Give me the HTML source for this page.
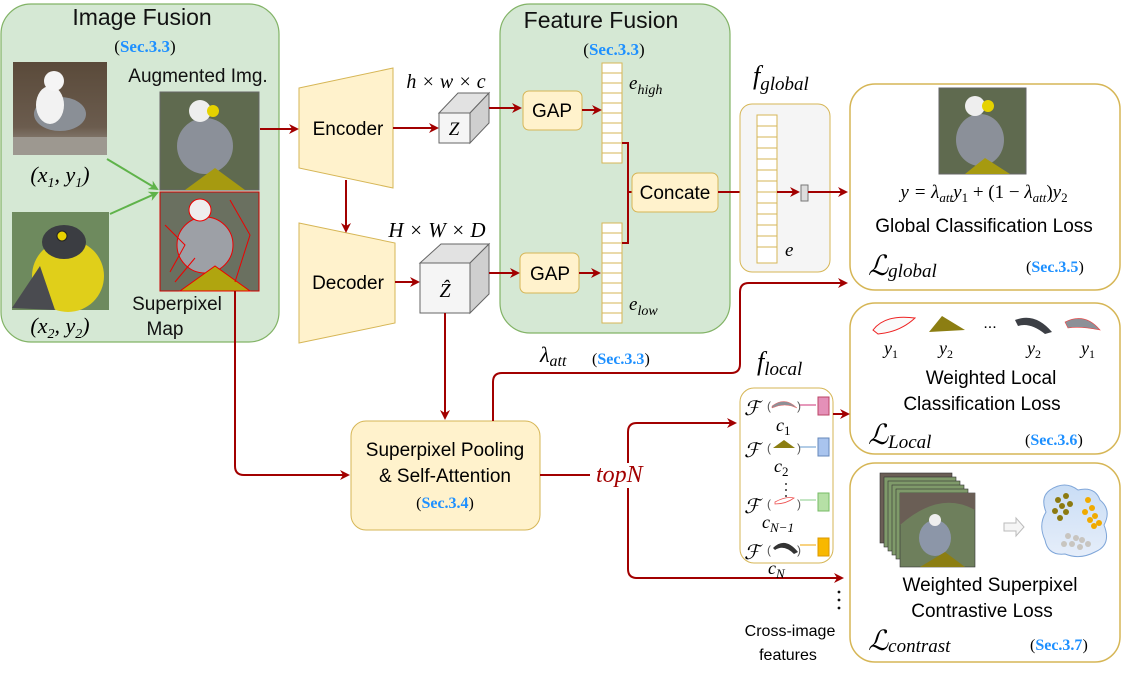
<!DOCTYPE html>
<html><head><meta charset="utf-8"><style>
html,body{margin:0;padding:0;background:#fff;}
svg{display:block;font-family:"Liberation Sans",sans-serif;}
.s{font-family:"Liberation Serif",serif;}
.m{font-family:"Liberation Serif",serif;font-style:italic;}
.sec{font-family:"Liberation Serif",serif;font-weight:bold;fill:#1e90ff;}
</style></head><body>
<svg width="1136" height="679" viewBox="0 0 1136 679" xmlns="http://www.w3.org/2000/svg">
<defs>
<marker id="ar" markerWidth="10" markerHeight="10" refX="8" refY="5" orient="auto" markerUnits="userSpaceOnUse"><path d="M0,0 L10,5 L0,10 L3,5 Z" fill="#a20000"/></marker>
<marker id="ag" markerWidth="10" markerHeight="10" refX="8" refY="5" orient="auto" markerUnits="userSpaceOnUse"><path d="M0,0 L10,5 L0,10 L3,5 Z" fill="#5fb34a"/></marker>
<linearGradient id="bg1" x1="0" y1="0" x2="0" y2="1"><stop offset="0" stop-color="#5a4a3a"/><stop offset="0.7" stop-color="#6b5c4e"/><stop offset="1" stop-color="#a09a90"/></linearGradient>
<linearGradient id="cl" x1="0" y1="0" x2="0" y2="1"><stop offset="0" stop-color="#c9ddf5"/><stop offset="1" stop-color="#e6eefa"/></linearGradient>
</defs>

<!-- Image Fusion -->
<rect x="1" y="4" width="278" height="338" rx="30" fill="#d5e8d4" stroke="#82b366" stroke-width="1.2"/>
<text x="142" y="25" font-size="23" text-anchor="middle" fill="#111">Image Fusion</text>
<text x="145" y="52" font-size="17" text-anchor="middle" class="s">(<tspan class="sec">Sec.3.3</tspan>)</text>
<!-- bird1 -->
<rect x="13" y="62" width="94" height="93" fill="url(#bg1)"/>
<ellipse cx="60" cy="114" rx="26" ry="17" fill="#8a8f96"/>
<ellipse cx="50" cy="105" rx="14" ry="19" fill="#f2f2f2"/>
<circle cx="54" cy="81" r="10" fill="#f5f5f5"/>
<rect x="13" y="137" width="94" height="18" fill="#9d9890"/>
<text x="60" y="182" font-size="22" text-anchor="middle" class="m">(x<tspan font-size="14" dy="5">1</tspan><tspan dy="-5">, y</tspan><tspan font-size="14" dy="5">1</tspan><tspan dy="-5">)</tspan></text>
<!-- bird2 -->
<rect x="12" y="212" width="97" height="98" fill="#6e8a5e"/>
<ellipse cx="68" cy="276" rx="36" ry="36" fill="#e0cf1a"/>
<ellipse cx="64" cy="242" rx="22" ry="17" fill="#3b3d42"/>
<circle cx="62" cy="236" r="5" fill="#e8d100" stroke="#222"/>
<path d="M12,308 L40,266 L55,310 Z" fill="#4a4b50"/>
<text x="60" y="333" font-size="22" text-anchor="middle" class="m">(x<tspan font-size="14" dy="5">2</tspan><tspan dy="-5">, y</tspan><tspan font-size="14" dy="5">2</tspan><tspan dy="-5">)</tspan></text>
<!-- augmented -->
<text x="198" y="82" font-size="19" text-anchor="middle" fill="#111">Augmented Img.</text>
<rect x="160" y="92" width="99" height="98" fill="#5f6a4f" stroke="#666"/>
<ellipse cx="205" cy="146" rx="28" ry="28" fill="#8b9099"/>
<circle cx="200" cy="111" r="11" fill="#eee"/>
<circle cx="213" cy="111" r="6" fill="#e5d200"/>
<path d="M185,190 L215,168 L245,190 Z" fill="#a69a10"/>
<rect x="160" y="192" width="99" height="99" fill="#6a7060" stroke="#c00"/>
<ellipse cx="205" cy="245" rx="28" ry="28" fill="#9da0a6" stroke="#e00"/>
<circle cx="200" cy="210" r="11" fill="#eee" stroke="#e00"/>
<path d="M180,291 L215,266 L250,291 Z" fill="#b0a50f" stroke="#e00"/>
<path d="M165,225 L185,245 L170,272 M230,200 L250,235 L235,282 M175,282 L195,258" stroke="#e00" fill="none"/>
<text x="177" y="310" font-size="19" text-anchor="middle" fill="#111">Superpixel</text>
<text x="165" y="335" font-size="19" text-anchor="middle" fill="#111">Map</text>
<line x1="107" y1="159" x2="157" y2="189" stroke="#5fb34a" stroke-width="2" marker-end="url(#ag)"/>
<line x1="110" y1="214" x2="157" y2="193" stroke="#5fb34a" stroke-width="2" marker-end="url(#ag)"/>

<!-- Encoder / Decoder -->
<line x1="260" y1="129" x2="297" y2="129" stroke="#a20000" stroke-width="2" marker-end="url(#ar)"/>
<polygon points="299,88 393,68 393,188 299,168" fill="#fff2cc" stroke="#d6b656"/>
<text x="348" y="135" font-size="19" text-anchor="middle">Encoder</text>
<polygon points="299,223 395,243 395,323 299,343" fill="#fff2cc" stroke="#d6b656"/>
<text x="348" y="289" font-size="19" text-anchor="middle">Decoder</text>
<line x1="346" y1="180" x2="346" y2="231" stroke="#a20000" stroke-width="2" marker-end="url(#ar)"/>
<line x1="393" y1="128" x2="437" y2="128" stroke="#a20000" stroke-width="2" marker-end="url(#ar)"/>
<line x1="395" y1="282" x2="418" y2="282" stroke="#a20000" stroke-width="2" marker-end="url(#ar)"/>

<!-- Z cube -->
<text x="446" y="88" font-size="20" text-anchor="middle" class="m">h × w × c</text>
<polygon points="439,113 458,93 489,93 470,113" fill="#e2e2e2" stroke="#666"/>
<polygon points="470,113 489,93 489,123 470,143" fill="#cfcfcf" stroke="#666"/>
<rect x="439" y="113" width="31" height="30" fill="#f5f5f5" stroke="#666"/>
<text x="454" y="135" font-size="19" text-anchor="middle" class="m">Z</text>
<!-- Zhat cube -->
<text x="437" y="237" font-size="21" text-anchor="middle" class="m">H × W × D</text>
<polygon points="420,263 441,244 489,244 470,263" fill="#e2e2e2" stroke="#666"/>
<polygon points="470,263 489,244 489,294 470,313" fill="#cfcfcf" stroke="#666"/>
<rect x="420" y="263" width="50" height="50" fill="#f5f5f5" stroke="#666"/>
<text x="445" y="297" font-size="20" text-anchor="middle" class="m">Ẑ</text>

<!-- Feature Fusion -->
<rect x="500" y="4" width="230" height="329" rx="30" fill="#d5e8d4" stroke="#82b366" stroke-width="1.2"/>
<text x="601" y="28" font-size="23" text-anchor="middle" fill="#111">Feature Fusion</text>
<text x="614" y="55" font-size="17" text-anchor="middle" class="s">(<tspan class="sec">Sec.3.3</tspan>)</text>
<line x1="489" y1="108" x2="520" y2="108" stroke="#a20000" stroke-width="2" marker-end="url(#ar)"/>
<rect x="523" y="91" width="59" height="39" rx="6" fill="#fff2cc" stroke="#d6b656"/>
<text x="552" y="117" font-size="19" text-anchor="middle">GAP</text>
<line x1="489" y1="273" x2="518" y2="273" stroke="#a20000" stroke-width="2" marker-end="url(#ar)"/>
<rect x="520" y="253" width="59" height="40" rx="6" fill="#fff2cc" stroke="#d6b656"/>
<text x="550" y="280" font-size="19" text-anchor="middle">GAP</text>
<line x1="582" y1="110" x2="600" y2="110" stroke="#a20000" stroke-width="2" marker-end="url(#ar)"/>
<line x1="579" y1="273" x2="599" y2="273" stroke="#a20000" stroke-width="2" marker-end="url(#ar)"/>
<g fill="#fff" stroke="#d6b656" stroke-width="1">
<rect x="602" y="63" width="20" height="100"/><rect x="602" y="223" width="20" height="100"/>
</g>
<g stroke="#d6b656" stroke-width="1">
<path d="M602,73h20M602,83h20M602,93h20M602,103h20M602,113h20M602,123h20M602,133h20M602,143h20M602,153h20"/>
<path d="M602,233h20M602,243h20M602,253h20M602,263h20M602,273h20M602,283h20M602,293h20M602,303h20M602,313h20"/>
</g>
<text x="629" y="89" font-size="19" class="m">e<tspan font-size="14" dy="5">high</tspan></text>
<text x="629" y="310" font-size="19" class="m">e<tspan font-size="14" dy="5">low</tspan></text>
<path d="M622,143 H628 V243 H622 M628,192 H632" stroke="#a20000" stroke-width="2" fill="none"/>
<rect x="632" y="173" width="86" height="39" rx="6" fill="#fff2cc" stroke="#d6b656"/>
<text x="675" y="199" font-size="19" text-anchor="middle">Concate</text>
<line x1="718" y1="192" x2="754" y2="192" stroke="#a20000" stroke-width="2" marker-end="url(#ar)"/>

<!-- f_global -->
<text x="753" y="84" font-size="26" class="m">f<tspan font-size="19" dy="6">global</tspan></text>
<rect x="740" y="104" width="90" height="168" rx="12" fill="#f5f5f5" stroke="#d6b656"/>
<rect x="757" y="115" width="20" height="148" fill="#fff" stroke="#d6b656"/>
<path d="M757,126h20M757,137h20M757,148h20M757,159h20M757,170h20M757,181h20M757,192h20M757,203h20M757,214h20M757,225h20M757,236h20M757,247h20" stroke="#d6b656"/>
<line x1="777" y1="192" x2="798" y2="192" stroke="#a20000" stroke-width="2" marker-end="url(#ar)"/>
<rect x="801" y="185" width="7" height="16" fill="#ddd" stroke="#777"/>
<line x1="808" y1="192" x2="846" y2="192" stroke="#a20000" stroke-width="2" marker-end="url(#ar)"/>
<text x="785" y="256" font-size="19" class="m">e</text>

<!-- Global box -->
<rect x="850" y="84" width="270" height="206" rx="25" fill="#fff" stroke="#d6b656" stroke-width="1.5"/>
<rect x="939" y="88" width="87" height="86" fill="#5f6a4f" stroke="#666"/>
<ellipse cx="980" cy="140" rx="24" ry="26" fill="#8b9099"/>
<circle cx="975" cy="106" r="10" fill="#eee"/>
<circle cx="988" cy="106" r="6" fill="#e5d200"/>
<path d="M965,174 L985,158 L1010,174 Z" fill="#a69a10"/>
<text x="984" y="198" font-size="19" text-anchor="middle" class="m">y = λ<tspan font-size="13" dy="4">att</tspan><tspan dy="-4">y</tspan><tspan font-size="13" dy="4" font-style="normal">1</tspan><tspan dy="-4" font-style="normal"> + (1 − </tspan>λ<tspan font-size="13" dy="4">att</tspan><tspan dy="-4" font-style="normal">)</tspan>y<tspan font-size="13" dy="4" font-style="normal">2</tspan></text>
<text x="984" y="232" font-size="19" text-anchor="middle">Global Classification Loss</text>
<text x="868" y="275" font-size="28" class="m">ℒ<tspan font-size="19" dy="2">global</tspan></text>
<text x="1026" y="272" font-size="16" class="s">(<tspan class="sec">Sec.3.5</tspan>)</text>

<!-- Local box -->
<rect x="850" y="303" width="270" height="151" rx="25" fill="#fff" stroke="#d6b656" stroke-width="1.5"/>
<path d="M873,330 Q885,314 915,318 Q900,332 878,334 Z" fill="#fafafa" stroke="#e22"/>
<path d="M929,332 L942,316 L965,330 Z" fill="#8c7e12"/>
<text x="990" y="328" font-size="16" text-anchor="middle">...</text>
<path d="M1015,320 Q1035,312 1052,332 L1045,334 Q1030,322 1018,326 Z" fill="#3c3f45"/>
<path d="M1065,322 Q1085,312 1100,330 Q1080,326 1068,328 Z" fill="#8c9097" stroke="#e44" stroke-width="0.6"/>
<g font-size="18" class="m"><text x="884" y="354">y<tspan font-size="12" dy="4" font-style="normal">1</tspan></text><text x="939" y="354">y<tspan font-size="12" dy="4" font-style="normal">2</tspan></text><text x="1027" y="354">y<tspan font-size="12" dy="4" font-style="normal">2</tspan></text><text x="1081" y="354">y<tspan font-size="12" dy="4" font-style="normal">1</tspan></text></g>
<text x="991" y="384" font-size="19" text-anchor="middle">Weighted Local</text>
<text x="982" y="410" font-size="19" text-anchor="middle">Classification Loss</text>
<text x="868" y="444" font-size="28" class="m">ℒ<tspan font-size="19" dy="4">Local</tspan></text>
<text x="1025" y="445" font-size="16" class="s">(<tspan class="sec">Sec.3.6</tspan>)</text>

<!-- Contrast box -->
<rect x="850" y="463" width="270" height="199" rx="25" fill="#fff" stroke="#d6b656" stroke-width="1.5"/>
<g stroke="#333" stroke-width="0.6">
<rect x="880" y="473" width="72" height="70" fill="#6a5e55"/>
<rect x="884" y="477" width="72" height="70" fill="#7f9a6a"/>
<rect x="888" y="481" width="72" height="70" fill="#7f9a6a"/>
<rect x="892" y="485" width="72" height="70" fill="#7f9a6a"/>
<rect x="896" y="489" width="72" height="70" fill="#7f9a6a"/>
<rect x="900" y="493" width="75" height="74" fill="#6e7f5c"/>
</g>
<path d="M900,493 H975 V510 Q940,490 900,525 Z" fill="#6a5e55"/>
<ellipse cx="935" cy="538" rx="16" ry="18" fill="#8c96a8"/>
<circle cx="935" cy="520" r="6" fill="#eee"/>
<path d="M920,567 L945,552 L965,567 Z" fill="#8c7e12"/>
<path d="M1004,523 h12 v-5 l8,9 l-8,9 v-5 h-12 Z" fill="#f5f5f5" stroke="#bbb"/>
<path d="M1050,490 Q1065,480 1078,490 Q1095,486 1100,500 Q1112,510 1104,525 Q1112,545 1095,552 Q1080,560 1065,554 Q1048,556 1045,540 Q1038,525 1046,512 Q1040,497 1050,490 Z" fill="url(#cl)" stroke="#7fa6d9"/>
<g fill="#8c7a10"><circle cx="1058" cy="500" r="3"/><circle cx="1066" cy="496" r="3"/><circle cx="1062" cy="506" r="3"/><circle cx="1070" cy="504" r="3"/><circle cx="1055" cy="511" r="3"/><circle cx="1066" cy="512" r="3"/><circle cx="1060" cy="518" r="3"/></g>
<g fill="#f0aa00"><circle cx="1088" cy="500" r="3"/><circle cx="1092" cy="508" r="3"/><circle cx="1085" cy="512" r="3"/><circle cx="1095" cy="516" r="3"/><circle cx="1090" cy="520" r="3"/><circle cx="1099" cy="523" r="3"/><circle cx="1094" cy="526" r="3"/></g>
<g fill="#c8c5c0"><circle cx="1068" cy="536" r="3"/><circle cx="1076" cy="538" r="3"/><circle cx="1082" cy="540" r="3"/><circle cx="1072" cy="544" r="3"/><circle cx="1080" cy="547" r="3"/><circle cx="1088" cy="544" r="3"/><circle cx="1064" cy="544" r="3"/></g>
<text x="990" y="591" font-size="19" text-anchor="middle">Weighted Superpixel</text>
<text x="982" y="617" font-size="19" text-anchor="middle">Contrastive Loss</text>
<text x="868" y="650" font-size="28" class="m">ℒ<tspan font-size="19" dy="2">contrast</tspan></text>
<text x="1030" y="650" font-size="16" class="s">(<tspan class="sec">Sec.3.7</tspan>)</text>

<!-- Pooling -->
<line x1="445" y1="313" x2="445" y2="418" stroke="#a20000" stroke-width="2" marker-end="url(#ar)"/>
<path d="M235,291 V466 Q235,475 244,475 H348" stroke="#a20000" stroke-width="2" fill="none" marker-end="url(#ar)"/>
<rect x="351" y="421" width="189" height="109" rx="15" fill="#fff2cc" stroke="#d6b656"/>
<text x="445" y="456" font-size="19" text-anchor="middle">Superpixel Pooling</text>
<text x="445" y="482" font-size="19" text-anchor="middle">&amp; Self-Attention</text>
<text x="445" y="508" font-size="16" text-anchor="middle" class="s">(<tspan class="sec">Sec.3.4</tspan>)</text>
<path d="M493,421 V382 Q493,373 502,373 H731 Q740,373 740,364 V292 Q740,283 749,283 H846" stroke="#a20000" stroke-width="2" fill="none" marker-end="url(#ar)"/>
<text x="540" y="362" font-size="22" class="m">λ<tspan font-size="16" dy="4">att</tspan></text>
<text x="592" y="364" font-size="16" class="s">(<tspan class="sec">Sec.3.3</tspan>)</text>
<line x1="540" y1="475" x2="590" y2="475" stroke="#a20000" stroke-width="2"/>
<text x="596" y="482" font-size="24" class="m" fill="#a20000">topN</text>
<path d="M628,463 V432 Q628,423 637,423 H735" stroke="#a20000" stroke-width="2" fill="none" marker-end="url(#ar)"/>
<path d="M628,488 V569 Q628,578 637,578 H842" stroke="#a20000" stroke-width="2" fill="none" marker-end="url(#ar)"/>

<!-- f_local -->
<text x="757" y="370" font-size="26" class="m">f<tspan font-size="19" dy="5">local</tspan></text>
<rect x="740" y="388" width="93" height="175" rx="14" fill="#fff" stroke="#d6b656"/>
<line x1="833" y1="414" x2="848" y2="414" stroke="#a20000" stroke-width="2" marker-end="url(#ar)"/>
<g font-size="20" class="m">
<text x="744" y="415">ℱ</text><text x="744" y="457">ℱ</text><text x="744" y="513">ℱ</text><text x="744" y="559">ℱ</text>
</g>
<g font-size="12" fill="#555"><text x="767" y="410">(</text><text x="797" y="410">)</text><text x="767" y="452">(</text><text x="797" y="452">)</text><text x="767" y="508">(</text><text x="797" y="508">)</text><text x="767" y="554">(</text><text x="797" y="554">)</text></g>
<path d="M772,406 Q785,396 797,408 Q785,402 772,408 Z" fill="#8c9097" stroke="#e66" stroke-width="0.5"/>
<path d="M773,448 L784,440 L795,448 Z" fill="#8c7e12"/>
<path d="M775,502 Q786,496 794,498 Q786,504 775,504 Z" fill="#fff" stroke="#e55" stroke-width="0.8"/>
<path d="M773,548 Q785,536 798,552 L794,554 Q784,544 775,550 Z" fill="#333"/>
<g stroke-width="1"><line x1="800" y1="405" x2="816" y2="405" stroke="#c37"/><line x1="800" y1="447" x2="816" y2="447" stroke="#69c"/><line x1="800" y1="500" x2="816" y2="500" stroke="#8c8"/><line x1="800" y1="545" x2="816" y2="545" stroke="#f0a500"/></g>
<rect x="818" y="397" width="11" height="18" fill="#e490b8" stroke="#b46"/>
<rect x="818" y="438" width="11" height="18" fill="#a9c4ee" stroke="#68b"/>
<rect x="818" y="493" width="11" height="18" fill="#b6e0a6" stroke="#7b6"/>
<rect x="818" y="538" width="11" height="18" fill="#f8b800" stroke="#d90"/>
<g font-size="18" class="m"><text x="776" y="431">c<tspan font-size="13" dy="4" font-style="normal">1</tspan></text><text x="774" y="472">c<tspan font-size="13" dy="4" font-style="normal">2</tspan></text><text x="762" y="528">c<tspan font-size="13" dy="4">N−1</tspan></text><text x="768" y="574">c<tspan font-size="13" dy="4">N</tspan></text></g>
<g fill="#333"><circle cx="786" cy="484" r="1"/><circle cx="786" cy="490" r="1"/><circle cx="786" cy="496" r="1"/></g>
<g fill="#111"><circle cx="839" cy="592" r="1.4"/><circle cx="839" cy="600" r="1.4"/><circle cx="839" cy="608" r="1.4"/></g>
<text x="790" y="636" font-size="16" text-anchor="middle">Cross-image</text>
<text x="788" y="660" font-size="16" text-anchor="middle">features</text>
</svg>
</body></html>
